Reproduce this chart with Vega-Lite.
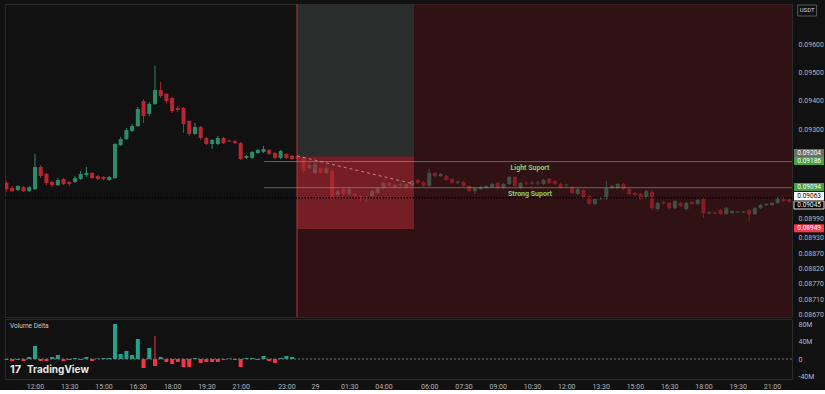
{
"$schema":"https://vega.github.io/schema/vega-lite/v6.json",
"background":"#111111",
"padding":{"left":3,"top":3,"right":0,"bottom":0},
"bounds":"flush",
"spacing":2,
"config":{"view":{"stroke":"#2a2a2a"},"scale":{"continuousPadding":0},"axis":{"labelFont":"Roboto","labelFontSize":7,"labelColor":"#b2b5be","grid":false,"ticks":false,"domain":false,"labelOverlap":false,"labelBound":false,"labelFlush":false},"text":{"font":"Roboto"}},
"datasets":{
"candles":[
{"i":-5,"o":0.09111,"h":0.09118,"l":0.09082,"c":0.09089},
{"i":-4,"o":0.09093,"h":0.09100,"l":0.09079,"c":0.09082},
{"i":-3,"o":0.09086,"h":0.09103,"l":0.09082,"c":0.09100},
{"i":-2,"o":0.09096,"h":0.09100,"l":0.09079,"c":0.09082},
{"i":-1,"o":0.09082,"h":0.09100,"l":0.09079,"c":0.09096},
{"i":0,"o":0.09089,"h":0.09213,"l":0.09086,"c":0.09167},
{"i":1,"o":0.09167,"h":0.09174,"l":0.09128,"c":0.09135},
{"i":2,"o":0.09142,"h":0.09146,"l":0.09103,"c":0.09111},
{"i":3,"o":0.09114,"h":0.09118,"l":0.09096,"c":0.09103},
{"i":4,"o":0.09103,"h":0.09128,"l":0.09100,"c":0.09121},
{"i":5,"o":0.09125,"h":0.09128,"l":0.09103,"c":0.09107},
{"i":6,"o":0.09114,"h":0.09118,"l":0.09100,"c":0.09107},
{"i":7,"o":0.09114,"h":0.09135,"l":0.09111,"c":0.09128},
{"i":8,"o":0.09125,"h":0.09153,"l":0.09121,"c":0.09142},
{"i":9,"o":0.09139,"h":0.09167,"l":0.09132,"c":0.09146},
{"i":10,"o":0.09146,"h":0.09149,"l":0.09125,"c":0.09128},
{"i":11,"o":0.09135,"h":0.09139,"l":0.09121,"c":0.09125},
{"i":12,"o":0.09132,"h":0.09135,"l":0.09121,"c":0.09125},
{"i":13,"o":0.09121,"h":0.09135,"l":0.09118,"c":0.09132},
{"i":14,"o":0.09128,"h":0.09251,"l":0.09125,"c":0.09248},
{"i":15,"o":0.09244,"h":0.09273,"l":0.09241,"c":0.09265},
{"i":16,"o":0.09265,"h":0.09304,"l":0.09262,"c":0.09297},
{"i":17,"o":0.09294,"h":0.09318,"l":0.09290,"c":0.09311},
{"i":18,"o":0.09311,"h":0.09378,"l":0.09308,"c":0.09371},
{"i":19,"o":0.09399,"h":0.09406,"l":0.09322,"c":0.09346},
{"i":20,"o":0.09354,"h":0.09396,"l":0.09346,"c":0.09389},
{"i":21,"o":0.09389,"h":0.09523,"l":0.09385,"c":0.09438},
{"i":22,"o":0.09438,"h":0.09466,"l":0.09410,"c":0.09417},
{"i":23,"o":0.09424,"h":0.09427,"l":0.09392,"c":0.09399},
{"i":24,"o":0.09410,"h":0.09413,"l":0.09357,"c":0.09364},
{"i":25,"o":0.09375,"h":0.09382,"l":0.09361,"c":0.09368},
{"i":26,"o":0.09375,"h":0.09378,"l":0.09287,"c":0.09318},
{"i":27,"o":0.09329,"h":0.09332,"l":0.09276,"c":0.09283},
{"i":28,"o":0.09283,"h":0.09322,"l":0.09280,"c":0.09308},
{"i":29,"o":0.09308,"h":0.09311,"l":0.09262,"c":0.09269},
{"i":30,"o":0.09269,"h":0.09273,"l":0.09244,"c":0.09248},
{"i":31,"o":0.09248,"h":0.09265,"l":0.09230,"c":0.09262},
{"i":32,"o":0.09248,"h":0.09276,"l":0.09244,"c":0.09269},
{"i":33,"o":0.09269,"h":0.09273,"l":0.09248,"c":0.09251},
{"i":34,"o":0.09260,"h":0.09262,"l":0.09255,"c":0.09256},
{"i":35,"o":0.09258,"h":0.09262,"l":0.09248,"c":0.09251},
{"i":36,"o":0.09251,"h":0.09255,"l":0.09192,"c":0.09195},
{"i":37,"o":0.09199,"h":0.09209,"l":0.09195,"c":0.09206},
{"i":38,"o":0.09199,"h":0.09223,"l":0.09195,"c":0.09220},
{"i":39,"o":0.09216,"h":0.09230,"l":0.09213,"c":0.09227},
{"i":40,"o":0.09220,"h":0.09241,"l":0.09216,"c":0.09230},
{"i":41,"o":0.09227,"h":0.09230,"l":0.09209,"c":0.09213},
{"i":42,"o":0.09216,"h":0.09220,"l":0.09195,"c":0.09199},
{"i":43,"o":0.09199,"h":0.09227,"l":0.09195,"c":0.09223},
{"i":44,"o":0.09213,"h":0.09216,"l":0.09195,"c":0.09199},
{"i":45,"o":0.09206,"h":0.09209,"l":0.09192,"c":0.09195},
{"i":46,"o":0.09206,"h":0.09209,"l":0.09188,"c":0.09195},
{"i":47,"o":0.09199,"h":0.09206,"l":0.09146,"c":0.09153},
{"i":48,"o":0.09163,"h":0.09188,"l":0.09160,"c":0.09174},
{"i":49,"o":0.09146,"h":0.09184,"l":0.09142,"c":0.09177},
{"i":50,"o":0.09163,"h":0.09167,"l":0.09142,"c":0.09146},
{"i":51,"o":0.09146,"h":0.09170,"l":0.09142,"c":0.09163},
{"i":52,"o":0.09153,"h":0.09160,"l":0.09051,"c":0.09058},
{"i":53,"o":0.09068,"h":0.09089,"l":0.09058,"c":0.09082},
{"i":54,"o":0.09089,"h":0.09093,"l":0.09065,"c":0.09072},
{"i":55,"o":0.09072,"h":0.09096,"l":0.09065,"c":0.09089},
{"i":56,"o":0.09072,"h":0.09075,"l":0.09058,"c":0.09065},
{"i":57,"o":0.09065,"h":0.09068,"l":0.09047,"c":0.09054},
{"i":58,"o":0.09058,"h":0.09065,"l":0.09044,"c":0.09061},
{"i":59,"o":0.09065,"h":0.09086,"l":0.09058,"c":0.09082},
{"i":60,"o":0.09075,"h":0.09096,"l":0.09072,"c":0.09093},
{"i":61,"o":0.09093,"h":0.09114,"l":0.09089,"c":0.09111},
{"i":62,"o":0.09111,"h":0.09114,"l":0.09096,"c":0.09100},
{"i":63,"o":0.09096,"h":0.09107,"l":0.09093,"c":0.09103},
{"i":64,"o":0.09102,"h":0.09111,"l":0.09096,"c":0.09105},
{"i":65,"o":0.09096,"h":0.09111,"l":0.09093,"c":0.09107},
{"i":66,"o":0.09100,"h":0.09121,"l":0.09096,"c":0.09118},
{"i":67,"o":0.09121,"h":0.09125,"l":0.09107,"c":0.09111},
{"i":68,"o":0.09114,"h":0.09118,"l":0.09096,"c":0.09100},
{"i":69,"o":0.09100,"h":0.09160,"l":0.09096,"c":0.09146},
{"i":70,"o":0.09146,"h":0.09149,"l":0.09132,"c":0.09135},
{"i":71,"o":0.09135,"h":0.09146,"l":0.09132,"c":0.09142},
{"i":72,"o":0.09135,"h":0.09139,"l":0.09118,"c":0.09121},
{"i":73,"o":0.09125,"h":0.09128,"l":0.09107,"c":0.09111},
{"i":74,"o":0.09112,"h":0.09118,"l":0.09107,"c":0.09116},
{"i":75,"o":0.09114,"h":0.09118,"l":0.09096,"c":0.09100},
{"i":76,"o":0.09100,"h":0.09103,"l":0.09079,"c":0.09082},
{"i":77,"o":0.09082,"h":0.09096,"l":0.09072,"c":0.09093},
{"i":78,"o":0.09089,"h":0.09100,"l":0.09086,"c":0.09096},
{"i":79,"o":0.09093,"h":0.09103,"l":0.09089,"c":0.09100},
{"i":80,"o":0.09096,"h":0.09111,"l":0.09093,"c":0.09107},
{"i":81,"o":0.09111,"h":0.09114,"l":0.09089,"c":0.09093},
{"i":82,"o":0.09093,"h":0.09111,"l":0.09089,"c":0.09107},
{"i":83,"o":0.09107,"h":0.09135,"l":0.09103,"c":0.09132},
{"i":84,"o":0.09132,"h":0.09135,"l":0.09096,"c":0.09100},
{"i":85,"o":0.09093,"h":0.09114,"l":0.09089,"c":0.09111},
{"i":86,"o":0.09112,"h":0.09118,"l":0.09103,"c":0.09109},
{"i":87,"o":0.09109,"h":0.09118,"l":0.09103,"c":0.09112},
{"i":88,"o":0.09109,"h":0.09118,"l":0.09103,"c":0.09112},
{"i":89,"o":0.09107,"h":0.09125,"l":0.09103,"c":0.09121},
{"i":90,"o":0.09125,"h":0.09128,"l":0.09107,"c":0.09111},
{"i":91,"o":0.09118,"h":0.09121,"l":0.09103,"c":0.09107},
{"i":92,"o":0.09107,"h":0.09111,"l":0.09089,"c":0.09093},
{"i":93,"o":0.09102,"h":0.09107,"l":0.09096,"c":0.09105},
{"i":94,"o":0.09096,"h":0.09100,"l":0.09072,"c":0.09075},
{"i":95,"o":0.09072,"h":0.09093,"l":0.09068,"c":0.09089},
{"i":96,"o":0.09086,"h":0.09089,"l":0.09054,"c":0.09058},
{"i":97,"o":0.09065,"h":0.09068,"l":0.09033,"c":0.09037},
{"i":98,"o":0.09037,"h":0.09058,"l":0.09033,"c":0.09054},
{"i":99,"o":0.09053,"h":0.09061,"l":0.09051,"c":0.09056},
{"i":100,"o":0.09054,"h":0.09118,"l":0.09051,"c":0.09093},
{"i":101,"o":0.09093,"h":0.09103,"l":0.09089,"c":0.09100},
{"i":102,"o":0.09093,"h":0.09111,"l":0.09089,"c":0.09107},
{"i":103,"o":0.09107,"h":0.09111,"l":0.09086,"c":0.09089},
{"i":104,"o":0.09089,"h":0.09093,"l":0.09068,"c":0.09072},
{"i":105,"o":0.09075,"h":0.09079,"l":0.09065,"c":0.09068},
{"i":106,"o":0.09072,"h":0.09075,"l":0.09051,"c":0.09054},
{"i":107,"o":0.09058,"h":0.09086,"l":0.09054,"c":0.09082},
{"i":108,"o":0.09079,"h":0.09086,"l":0.09015,"c":0.09022},
{"i":109,"o":0.09019,"h":0.09044,"l":0.09012,"c":0.09040},
{"i":110,"o":0.09042,"h":0.09047,"l":0.09033,"c":0.09038},
{"i":111,"o":0.09040,"h":0.09044,"l":0.09019,"c":0.09022},
{"i":112,"o":0.09022,"h":0.09051,"l":0.09019,"c":0.09047},
{"i":113,"o":0.09040,"h":0.09044,"l":0.09026,"c":0.09030},
{"i":114,"o":0.09019,"h":0.09044,"l":0.09015,"c":0.09040},
{"i":115,"o":0.09044,"h":0.09047,"l":0.09033,"c":0.09037},
{"i":116,"o":0.09037,"h":0.09054,"l":0.09033,"c":0.09051},
{"i":117,"o":0.09054,"h":0.09061,"l":0.08987,"c":0.09005},
{"i":118,"o":0.09003,"h":0.09012,"l":0.09001,"c":0.09007},
{"i":119,"o":0.09007,"h":0.09012,"l":0.09001,"c":0.09003},
{"i":120,"o":0.09015,"h":0.09019,"l":0.08998,"c":0.09001},
{"i":121,"o":0.09001,"h":0.09026,"l":0.08998,"c":0.09022},
{"i":122,"o":0.09005,"h":0.09015,"l":0.09001,"c":0.09012},
{"i":123,"o":0.09007,"h":0.09012,"l":0.09005,"c":0.09010},
{"i":124,"o":0.09007,"h":0.09012,"l":0.09005,"c":0.09010},
{"i":125,"o":0.09015,"h":0.09019,"l":0.08977,"c":0.09001},
{"i":126,"o":0.09001,"h":0.09026,"l":0.08998,"c":0.09022},
{"i":127,"o":0.09022,"h":0.09037,"l":0.09019,"c":0.09033},
{"i":128,"o":0.09033,"h":0.09040,"l":0.09030,"c":0.09037},
{"i":129,"o":0.09033,"h":0.09044,"l":0.09030,"c":0.09040},
{"i":130,"o":0.09040,"h":0.09061,"l":0.09037,"c":0.09058},
{"i":131,"o":0.09054,"h":0.09058,"l":0.09044,"c":0.09047},
{"i":132,"o":0.09053,"h":0.09058,"l":0.09040,"c":0.09045}
],
"vol":[
{"i":-5,"v":-2300000},{"i":-4,"v":-4600000},{"i":-3,"v":-2300000},{"i":-2,"v":-4600000},{"i":-1,"v":4600000},
{"i":0,"v":29700000},{"i":1,"v":-4600000},{"i":2,"v":-4600000},{"i":3,"v":4600000},{"i":4,"v":9100000},
{"i":5,"v":-4600000},{"i":6,"v":-2300000},{"i":7,"v":2300000},{"i":8,"v":-2300000},{"i":9,"v":4600000},
{"i":10,"v":-4600000},{"i":11,"v":1100000},{"i":12,"v":2300000},{"i":13,"v":2300000},{"i":14,"v":80000000},
{"i":15,"v":11400000},{"i":16,"v":18300000},{"i":17,"v":9100000},{"i":18,"v":45700000},{"i":19,"v":-20600000},
{"i":20,"v":25100000},{"i":21,"v":-16000000,"hi":52600000},{"i":22,"v":4600000},{"i":23,"v":-6900000},{"i":24,"v":-11400000},
{"i":25,"v":-6900000},{"i":26,"v":-18300000},{"i":27,"v":-18300000},{"i":28,"v":2300000},{"i":29,"v":-9100000},
{"i":30,"v":-6900000},{"i":31,"v":-6900000},{"i":32,"v":-6900000},{"i":33,"v":-2300000},{"i":34,"v":1100000},
{"i":35,"v":-2300000},{"i":36,"v":-18300000},{"i":37,"v":2300000},{"i":38,"v":2300000},{"i":39,"v":-2300000},
{"i":40,"v":6900000},{"i":41,"v":-4600000},{"i":42,"v":-9100000},{"i":43,"v":2300000},{"i":44,"v":6900000},
{"i":45,"v":4600000}
],
"levels":[{"t":"Light Suport","p":0.09186},{"t":"Strong Suport","p":0.09094}],
"plabels":[
{"p":0.09204,"lp":0.092162,"kind":"entry"},
{"p":0.09186,"lp":0.09188,"kind":"light"},
{"p":0.09094,"lp":0.090965,"kind":"strong"},
{"p":0.09063,"lp":0.090648,"kind":"cross"},
{"p":0.09045,"lp":0.090331,"kind":"last"},
{"p":0.08949,"lp":0.08951,"kind":"stop"}
]
},
"vconcat":[
{"width":787,"height":313,
"layer":[
{"data":{"name":"candles"},"mark":{"type":"rule","clip":true,"strokeWidth":1},
"encoding":{
"x":{"field":"i","type":"quantitative","scale":{"domain":[-5.25,132.5],"nice":false,"zero":false,"padding":0},"axis":null},
"y":{"field":"l","type":"quantitative","scale":{"domain":[0.0863873,0.0974085],"nice":false,"zero":false,"padding":0},
"axis":{"orient":"right","title":null,"labelPadding":6,"labelOverlap":false,"tickCount":100,"values":[0.096,0.095,0.094,0.093,0.08987,0.0892,0.08861,0.08808,0.08755,0.08702,0.08649],
"labelExpr":"datum.value > 0.0955 ? '0.09600' : datum.value > 0.0945 ? '0.09500' : datum.value > 0.0935 ? '0.09400' : datum.value > 0.092 ? '0.09300' : datum.value > 0.0896 ? '0.08990' : datum.value > 0.089 ? '0.08930' : datum.value > 0.08835 ? '0.08870' : datum.value > 0.0878 ? '0.08820' : datum.value > 0.0873 ? '0.08770' : datum.value > 0.0868 ? '0.08710' : '0.08670'"}},
"y2":{"field":"h"},
"color":{"condition":{"test":"datum.c >= datum.o","value":"#2a8c68"},"value":"#b9262f"}}},
{"data":{"name":"candles"},"mark":{"type":"bar","clip":true,"size":4},
"encoding":{
"x":{"field":"i","type":"quantitative","title":null},
"y":{"field":"o","type":"quantitative","title":null},
"y2":{"field":"c"},
"color":{"condition":{"test":"datum.c >= datum.o","value":"#2a8c68"},"value":"#b9262f"}}},
{"data":{"values":[{}]},"mark":{"type":"rect","fill":"#50141a","opacity":0.5},
"encoding":{"x":{"datum":45.86,"type":"quantitative","title":null},"x2":{"datum":132.5},"y":{"datum":0.0863873,"type":"quantitative","title":null},"y2":{"datum":0.0974085}}},
{"data":{"values":[{}]},"mark":{"type":"rect","fill":"#2a2f2d","opacity":1},
"encoding":{"x":{"datum":45.86,"type":"quantitative","title":null},"x2":{"datum":66.34},"y":{"datum":0.09204,"type":"quantitative","title":null},"y2":{"datum":0.0974085}}},
{"data":{"values":[{}]},"mark":{"type":"rect","fill":"#f23645","opacity":0.36},
"encoding":{"x":{"datum":45.86,"type":"quantitative","title":null},"x2":{"datum":66.34},"y":{"datum":0.08949,"type":"quantitative","title":null},"y2":{"datum":0.09204}}},
{"data":{"values":[{}]},"mark":{"type":"rule","color":"#b8343c","strokeWidth":1},
"encoding":{"x":{"datum":45.86,"type":"quantitative","title":null}}},
{"data":{"name":"levels"},"mark":{"type":"rule","color":"#9a9a88","opacity":0.6,"strokeWidth":1},
"encoding":{"x":{"datum":40.1,"type":"quantitative","title":null},"x2":{"datum":132.5},"y":{"field":"p","type":"quantitative","title":null}}},
{"data":{"values":[{}]},"mark":{"type":"rule","color":"#e8a6a6","opacity":0.7,"strokeWidth":1,"strokeDash":[3,3]},
"encoding":{"x":{"datum":45.86,"type":"quantitative","title":null},"x2":{"datum":66.34},"y":{"datum":0.09206,"type":"quantitative","title":null},"y2":{"datum":0.09107}}},
{"data":{"values":[{}]},"mark":{"type":"rule","color":"#000000","strokeWidth":1.5,"strokeDash":[1.5,1.5]},
"encoding":{"y":{"datum":0.09059,"type":"quantitative","title":null}}},
{"data":{"name":"levels"},"mark":{"type":"text","color":"#86d466","fontSize":7,"fontWeight":"bold","dy":6,"align":"center","baseline":"middle"},
"encoding":{"x":{"datum":86.64,"type":"quantitative","title":null},"y":{"field":"p","type":"quantitative","title":null},"text":{"field":"t"}}},
{"data":{"name":"plabels"},"mark":{"type":"rect","clip":false,"yOffset":-4,"y2Offset":4,"strokeWidth":1},
"encoding":{"x":{"datum":132.85,"type":"quantitative","title":null},"x2":{"datum":138.1},"y":{"field":"lp","type":"quantitative","title":null},"y2":{"field":"lp"},
"fill":{"field":"kind","type":"nominal","legend":null,"scale":{"domain":["entry","light","strong","cross","last","stop"],"range":["#6a6e6b","#43a047","#43a047","#ffffff","#000000","#f03a52"]}},
"stroke":{"condition":{"test":"datum.kind == 'last'","value":"#e0e0e0"},"value":"transparent"}}},
{"data":{"name":"plabels"},"mark":{"type":"text","clip":false,"fontSize":6.5,"align":"center","baseline":"middle"},
"encoding":{"x":{"datum":135.5,"type":"quantitative","title":null},"y":{"field":"lp","type":"quantitative","title":null},"text":{"field":"p","type":"quantitative","format":".5f"},
"color":{"condition":{"test":"datum.kind == 'cross'","value":"#000000"},"value":"#ffffff"}}},
{"data":{"values":[{}]},"mark":{"type":"rect","clip":false,"fill":"transparent","stroke":"#5a5a5a","strokeWidth":1},
"encoding":{"x":{"datum":133.5,"type":"quantitative","title":null},"x2":{"datum":136.8},"y":{"datum":0.096986,"type":"quantitative","title":null},"y2":{"datum":0.097373}}},
{"data":{"values":[{}]},"mark":{"type":"text","clip":false,"fontSize":6,"color":"#d1d4dc","align":"center","baseline":"middle"},
"encoding":{"x":{"datum":135.15,"type":"quantitative","title":null},"y":{"datum":0.09718,"type":"quantitative","title":null},"text":{"value":"USDT"}}}
]},
{"width":787,"height":60,
"layer":[
{"data":{"name":"vol"},"mark":{"type":"bar","size":4},
"encoding":{
"x":{"field":"i","type":"quantitative","scale":{"domain":[-5.25,132.5],"nice":false,"zero":false,"padding":0},
"axis":{"orient":"bottom","title":null,"labelPadding":3,"labelOverlap":false,"tickCount":100,"values":[0,6,12,18,24,30,36,44,49,55,61,69,75,81,87,93,99,105,111,117,123,129],
"labelExpr":"datum.value < 3 ? '12:00' : datum.value < 9 ? '13:30' : datum.value < 15 ? '15:00' : datum.value < 21 ? '16:30' : datum.value < 27 ? '18:00' : datum.value < 33 ? '19:30' : datum.value < 40 ? '21:00' : datum.value < 46 ? '23:00' : datum.value < 52 ? '29' : datum.value < 58 ? '01:30' : datum.value < 65 ? '04:00' : datum.value < 72 ? '06:00' : datum.value < 78 ? '07:30' : datum.value < 84 ? '09:00' : datum.value < 90 ? '10:30' : datum.value < 96 ? '12:00' : datum.value < 102 ? '13:30' : datum.value < 108 ? '15:00' : datum.value < 114 ? '16:30' : datum.value < 120 ? '18:00' : datum.value < 126 ? '19:30' : '21:00'"}},
"y":{"field":"v","type":"quantitative","scale":{"domain":[-45710000,91430000],"nice":false,"zero":false,"padding":0},
"axis":{"orient":"right","title":null,"labelPadding":6,"labelOverlap":false,"tickCount":100,"values":[80000000,40000000,0,-40000000],
"labelExpr":"datum.value == 0 ? '0' : (datum.value / 1000000) + 'M'"}},
"color":{"condition":{"test":"datum.v >= 0","value":"#22a38c"},"value":"#f23645"}}},
{"data":{"values":[{}]},"mark":{"type":"rule","color":"#777777","strokeWidth":1,"strokeDash":[2,2]},
"encoding":{"y":{"datum":0,"type":"quantitative","title":null}}},
{"data":{"name":"vol"},"transform":[{"filter":"isValid(datum.hi)"}],"mark":{"type":"rule","color":"#f23645","strokeWidth":1},
"encoding":{"x":{"field":"i","type":"quantitative","title":null},"y":{"field":"v","type":"quantitative","title":null},"y2":{"field":"hi"}}},
{"data":{"values":[{}]},"mark":{"type":"text","fontSize":6.5,"color":"#c8cad0","align":"left","baseline":"middle"},
"encoding":{"x":{"datum":-4.37,"type":"quantitative","title":null},"y":{"datum":75400000,"type":"quantitative","title":null},"text":{"value":"Volume Delta"}}},
{"data":{"values":[{}]},"mark":{"type":"text","fontSize":11,"fontWeight":"bold","font":"Inter","color":"#e6e6e6","align":"left","baseline":"middle"},
"encoding":{"x":{"datum":-4.37,"type":"quantitative","title":null},"y":{"datum":-25000000,"type":"quantitative","title":null},"text":{"value":"17"}}},
{"data":{"values":[{}]},"mark":{"type":"text","fontSize":10,"fontWeight":"bold","font":"Inter","color":"#e6e6e6","align":"left","baseline":"middle"},
"encoding":{"x":{"datum":-1.4,"type":"quantitative","title":null},"y":{"datum":-25000000,"type":"quantitative","title":null},"text":{"value":"TradingView"}}}
]}
]
}
